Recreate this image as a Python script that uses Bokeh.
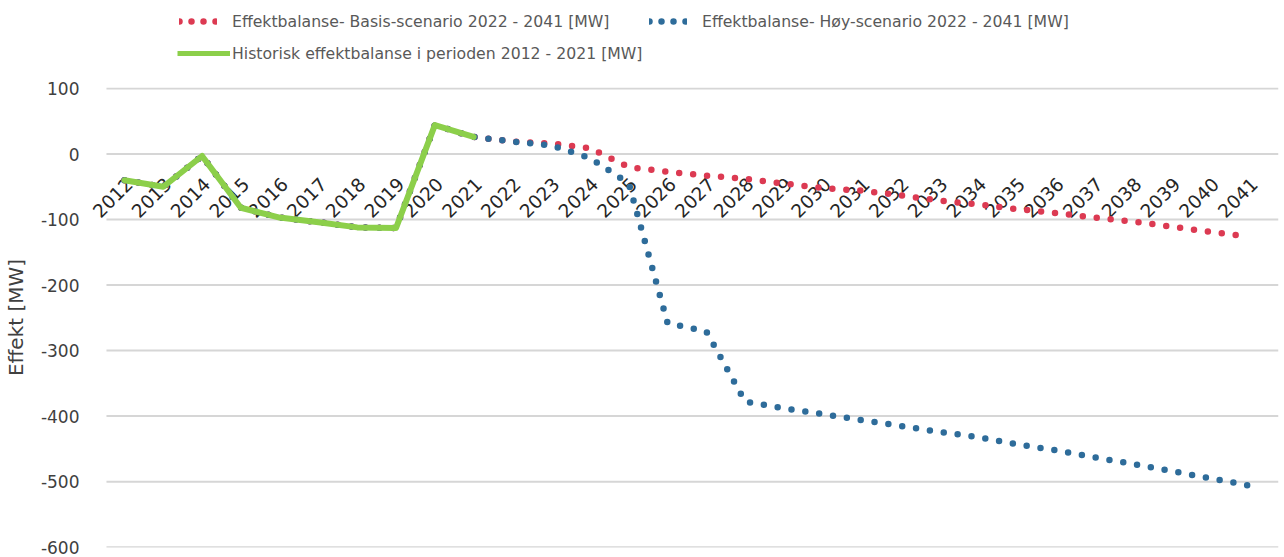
import math

from bokeh.core.properties import value
from bokeh.embed import file_html
from bokeh.layouts import column
from bokeh.models import FixedTicker, Legend, LegendItem, Range1d
from bokeh.plotting import figure
from bokeh.resources import INLINE

# Years on the category axis
years = list(range(2012, 2042))
year_labels = [str(y) for y in years]

# Historical power balance 2012-2021 [MW]
historisk = [-40, -50, -3, -82, -97, -104, -112, -113, 44, 26]

# Forecasts 2022-2041 [MW]
basis_prognose = [19, 16, 9, -20, -27, -33, -38, -45, -52, -56,
                  -63, -71, -77, -84, -90, -97, -103, -111, -119, -126]
hoy_prognose = [19, 13, -6, -45, -258, -271, -378, -388, -397, -406,
                -415, -424, -432, -443, -452, -463, -473, -484, -495, -506]

# Each scenario series carries the historical values in front of the forecast
basis_serie = historisk + basis_prognose
hoy_serie = historisk + hoy_prognose

y_ticks = [-600, -500, -400, -300, -200, -100, 0, 100]
y_tick_labels = {t: str(t) for t in y_ticks}
axis_cross = 0

label_basis = "Effektbalanse- Basis-scenario 2022 - 2041 [MW]"
label_hoy = "Effektbalanse- Høy-scenario 2022 - 2041 [MW]"
label_hist = "Historisk effektbalanse i perioden 2012 - 2021 [MW]"

RED = "#DC3A52"
BLUE = "#2E6C9A"
GREEN = "#8CCF4A"
FONT = "DejaVu Sans"

# Horizontal extent of the plotting area (half a category beyond first/last year)
grid_start = 2011.536
grid_end = 2041.747

# ---------------------------------------------------------------- legend strip
top = figure(
    width=1284, height=70,
    x_range=Range1d(0, 1), y_range=Range1d(0, 1),
    x_axis_location=None, y_axis_location=None,
    output_backend="svg", toolbar_location=None,
    min_border=0,
)
top.outline_line_color = None
top.grid.visible = False

# Swatch renderers: a single NaN point, so only their legend glyphs show
nan = [float("nan")]
leg_dot = dict(line_width=6.5, line_dash="0 12", line_cap="round")
sw_red = top.line(nan, nan, line_color=RED, **leg_dot)
sw_blue = top.line(nan, nan, line_color=BLUE, **leg_dot)
sw_green = top.line(nan, nan, line_color=GREEN, line_width=5, line_cap="butt")


def make_legend(label, renderer, loc, glyph_width, standoff):
    return Legend(
        items=[LegendItem(label=label, renderers=[renderer], index=0)],
        location=loc, orientation="horizontal",
        glyph_width=glyph_width, glyph_height=20, label_height=20,
        label_standoff=standoff, padding=0, margin=0, spacing=0,
        border_line_color=None, background_fill_alpha=0,
        label_text_font=FONT, label_text_font_size="15.7px",
        label_text_color="#595959",
    )


# locations are measured from the strip's frame, which lines up with the chart frame
top.add_layout(make_legend(label_basis, sw_red, (92, 39), 38, 15), "center")
top.add_layout(make_legend(label_hoy, sw_blue, (562, 39), 38, 15), "center")
top.add_layout(make_legend(label_hist, sw_green, (90, 7), 53, 2), "center")

# ------------------------------------------------------------------ main chart
p = figure(
    width=1284, height=487,
    x_range=Range1d(2011.047, 2041.747),
    y_range=Range1d(-600.5, 101.5),
    x_axis_location=None,
    output_backend="svg", toolbar_location=None,
    min_border_left=85, min_border_right=6,
    min_border_top=17, min_border_bottom=10,
)
p.outline_line_color = None
p.grid.visible = False

yax = p.yaxis[0]
yax.ticker = FixedTicker(ticks=y_ticks)
yax.major_label_overrides = y_tick_labels
yax.axis_line_color = None
yax.major_tick_line_color = None
yax.minor_tick_line_color = None
yax.major_label_standoff = 2
yax.major_label_text_font = FONT
yax.major_label_text_font_size = "17px"
yax.major_label_text_color = "#404040"
yax.axis_label = "Effekt [MW]"
yax.axis_label_standoff = 10
yax.axis_label_text_font = FONT
yax.axis_label_text_font_size = "20px"
yax.axis_label_text_font_style = "normal"
yax.axis_label_text_color = "#404040"

# Horizontal gridlines at the y ticks
p.segment(x0=[grid_start] * len(y_ticks), y0=y_ticks,
          x1=[grid_end] * len(y_ticks), y1=y_ticks,
          line_color="#D6D6D6", line_width=2)

# Year labels hanging below the zero line, rotated 45 degrees
p.text(
    x=years, y=[axis_cross] * len(years), text=year_labels,
    angle=math.pi / 4, text_align="right", text_baseline="middle",
    x_offset=5, y_offset=27,
    text_font=value(FONT), text_font_size="18.5px", text_color="#262626",
)

dot = dict(line_width=6.5, line_dash="0 14", line_cap="round")
p.line(years, basis_serie, line_color=RED, **dot)
p.line(years, hoy_serie, line_color=BLUE, **dot)
p.line(years[:len(historisk)], historisk, line_color=GREEN, line_width=6,
       line_join="round", line_cap="round")

layout = column(top, p, spacing=0)
open("out.html", "w").write(file_html(layout, INLINE))
